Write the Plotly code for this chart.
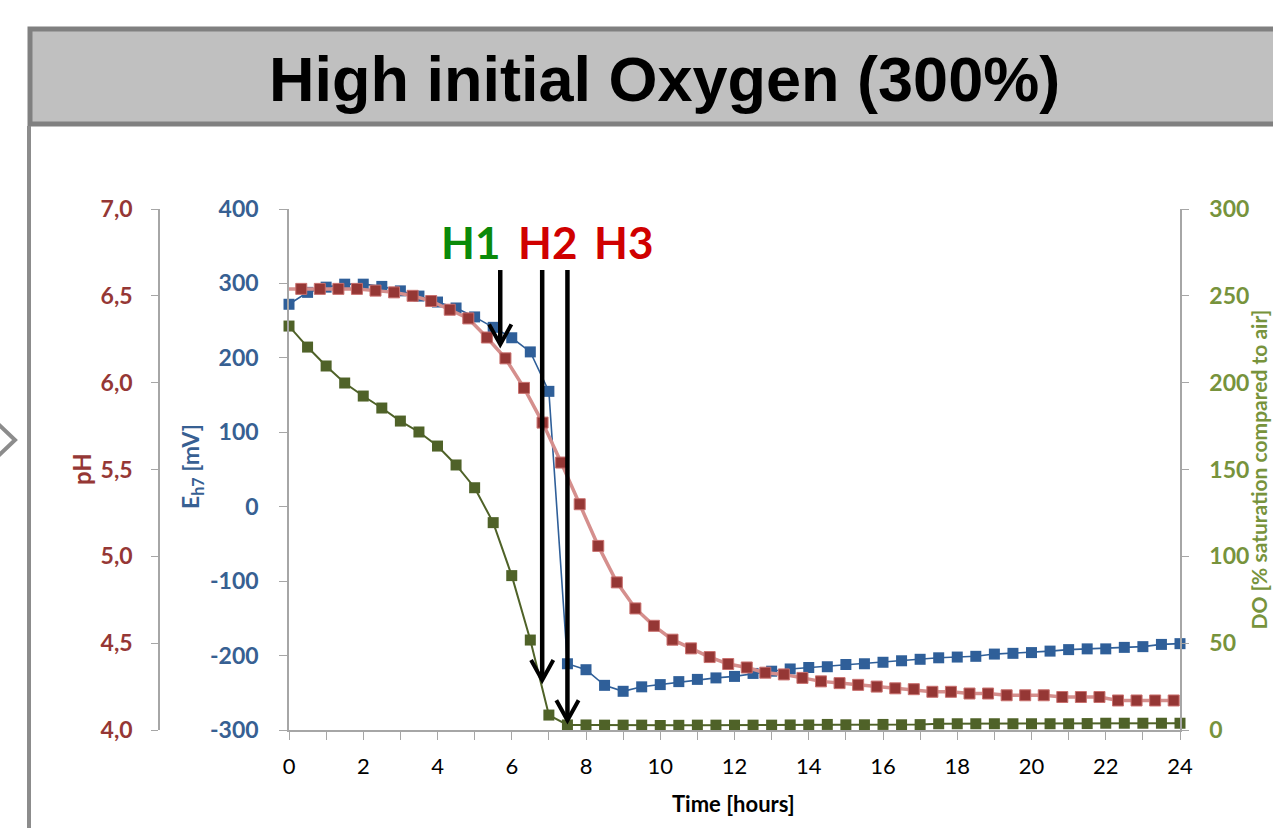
import plotly.graph_objects as go

# ---------------- data ----------------
time_h = [0, 0.5, 1, 1.5, 2, 2.5, 3, 3.5, 4, 4.5, 5, 5.5, 6, 6.5, 7, 7.5, 8, 8.5, 9, 9.5,
          10, 10.5, 11, 11.5, 12, 12.5, 13, 13.5, 14, 14.5, 15, 15.5, 16, 16.5, 17, 17.5,
          18, 18.5, 19, 19.5, 20, 20.5, 21, 21.5, 22, 22.5, 23, 23.5, 24]

# pH was logged ~10 min before the other probes
ph_time_h = [-0.17, 0.33, 0.83, 1.33, 1.83, 2.33, 2.83, 3.33, 3.83, 4.33, 4.83, 5.33, 5.83,
             6.33, 6.83, 7.33, 7.83, 8.33, 8.83, 9.33, 9.83, 10.33, 10.83, 11.33, 11.83,
             12.33, 12.83, 13.33, 13.83, 14.33, 14.83, 15.33, 15.83, 16.33, 16.83, 17.33,
             17.83, 18.33, 18.83, 19.33, 19.83, 20.33, 20.83, 21.33, 21.83, 22.33, 22.83,
             23.33, 23.83]

ph = [6.54, 6.54, 6.54, 6.54, 6.54, 6.53, 6.52, 6.50, 6.47, 6.42, 6.37, 6.26, 6.14, 5.97,
      5.77, 5.54, 5.30, 5.06, 4.85, 4.70, 4.60, 4.52, 4.47, 4.42, 4.38, 4.36, 4.33, 4.32,
      4.30, 4.28, 4.27, 4.26, 4.25, 4.24, 4.235, 4.22, 4.22, 4.21, 4.21, 4.20, 4.20, 4.20,
      4.19, 4.19, 4.19, 4.17, 4.17, 4.17, 4.17]

eh_mv = [272, 288, 295, 299, 299, 296, 290, 283, 275, 267, 255, 241, 227, 208, 155,
         -211, -219, -240, -248, -242,
         -239, -235, -232, -230, -228, -224, -221, -218, -216, -215, -212, -211, -209,
         -207, -205, -203, -202, -201, -198, -197, -196, -194, -192, -191, -191, -189,
         -188, -185, -184]

do_pct = [232.6, 220.5, 209.6, 199.8, 192.3, 185.4, 177.9, 171.6, 163.5, 152.6, 139.5,
          119.4, 88.9, 51.8, 8.6, 2.9, 2.9, 2.8, 2.8, 2.8, 2.6, 2.7, 2.8, 2.8, 2.8, 2.8,
          2.8, 2.9, 2.9, 3.2, 3.0, 3.0, 3.2, 3.0, 3.1, 3.6, 3.6, 3.6, 3.6, 3.6, 3.6, 3.6,
          3.6, 3.7, 3.9, 3.9, 3.9, 3.9, 3.9]

x_ticks = [0, 2, 4, 6, 8, 10, 12, 14, 16, 18, 20, 22, 24]
eh_ticks = [-300, -200, -100, 0, 100, 200, 300, 400]
eh_ticktext = ["-300", "-200", "-100", "0", "100", "200", "300", "400"]
ph_ticks = [4.0, 4.5, 5.0, 5.5, 6.0, 6.5, 7.0]
ph_ticktext = ["4,0", "4,5", "5,0", "5,5", "6,0", "6,5", "7,0"]
do_ticks = [0, 50, 100, 150, 200, 250, 300]

# phase markers (H1, H2, H3)
phase_labels = ["H1", "H2", "H3"]
phase_label_colors = ["#0a8a0a", "#d00000", "#d00000"]
phase_label_x = [4.9, 6.95, 9.0]
phase_arrow_x = [5.69, 6.82, 7.50]
phase_arrow_top = 318
phase_arrow_tip = [218, -233, -287]

# ---------------- colours ----------------
RED = "#953735"
RED_LINE = "#d58f8d"
BLUE = "#2f5f99"
GREEN = "#4f6228"
GREEN_TXT = "#77933c"
BLUE_TXT = "#376092"
AXIS = "#a6a6a6"

W, H = 1273, 828
def px(x):
    return x / W
def py(y):
    return 1 - y / H

fig = go.Figure()

fig.add_trace(go.Scatter(
    x=time_h, y=do_pct, yaxis="y3", mode="lines+markers", name="DO",
    line=dict(color=GREEN, width=2),
    marker=dict(symbol="square", size=11, color=GREEN),
    cliponaxis=False, showlegend=False))

fig.add_trace(go.Scatter(
    x=time_h, y=eh_mv, yaxis="y", mode="lines+markers", name="Eh7",
    line=dict(color=BLUE, width=1.6),
    marker=dict(symbol="square", size=11, color=BLUE),
    cliponaxis=False, showlegend=False))

fig.add_trace(go.Scatter(
    x=ph_time_h, y=ph, yaxis="y2", mode="lines+markers", name="pH",
    line=dict(color=RED_LINE, width=3.5),
    marker=dict(symbol="square", size=11, color=RED, line=dict(color="#c9706e", width=1)),
    cliponaxis=False, showlegend=False))

x0d, x1d = px(289), px(1180)
y0d, y1d = py(730), py(209)

tickfont_common = dict(family="Lato", size=23, weight="bold")

fig.update_layout(
    width=W, height=H,
    margin=dict(l=0, r=0, t=0, b=0, pad=0, autoexpand=False),
    paper_bgcolor="white", plot_bgcolor="white",
    font=dict(family="Lato"),
    xaxis=dict(
        domain=[x0d, x1d], range=[0, 24], tickvals=x_ticks,
        showline=True, linecolor=AXIS, linewidth=1.5,
        ticks="outside", ticklen=8, tickcolor=AXIS, tickwidth=1.2,
        minor=dict(dtick=1, tick0=0, ticks="outside", ticklen=8, tickcolor=AXIS, tickwidth=1.2),
        tickfont=dict(family="Lato", size=22, color="black"),
        ticklabelstandoff=8, automargin=False,
        showgrid=False, zeroline=False, anchor="y"),
    yaxis=dict(
        domain=[y0d, y1d], range=[-300, 400], tickvals=eh_ticks, ticktext=eh_ticktext,
        showline=True, linecolor=AXIS, linewidth=1.5,
        ticks="outside", ticklen=8, tickcolor=AXIS, tickwidth=1.2,
        tickfont=dict(tickfont_common, color=BLUE_TXT),
        ticklabelstandoff=16, automargin=False,
        showgrid=False, zeroline=False, anchor="x"),
    yaxis2=dict(
        range=[4, 7], tickvals=ph_ticks, ticktext=ph_ticktext,
        overlaying="y", anchor="free", position=px(159), side="left",
        showline=True, linecolor=AXIS, linewidth=1.5,
        ticks="outside", ticklen=7, tickcolor=AXIS, tickwidth=1.2,
        tickfont=dict(tickfont_common, color=RED),
        ticklabelstandoff=14, automargin=False,
        showgrid=False, zeroline=False),
    yaxis3=dict(
        range=[0, 300], tickvals=do_ticks,
        overlaying="y", anchor="x", side="right",
        showline=True, linecolor=AXIS, linewidth=1.5,
        ticks="outside", ticklen=7, tickcolor=AXIS, tickwidth=1.2,
        tickfont=dict(tickfont_common, color=GREEN_TXT),
        ticklabelstandoff=16, automargin=False,
        showgrid=False, zeroline=False),
)

shapes = []
# title bar
shapes.append(dict(type="rect", xref="paper", yref="paper",
                   x0=px(30), x1=px(1300), y0=py(124), y1=py(29),
                   fillcolor="#c0c0c0", line=dict(color="#808080", width=5), layer="below"))
# left frame line
shapes.append(dict(type="line", xref="paper", yref="paper",
                   x0=px(29), x1=px(29), y0=py(126), y1=py(840),
                   line=dict(color="#8c8c8c", width=4)))
# chevron at left edge
shapes.append(dict(type="path", xref="paper", yref="paper",
                   path=f"M {px(-3)} {py(423)} L {px(15)} {py(440)} L {px(-3)} {py(457)}",
                   line=dict(color="#8c8c8c", width=4)))

# arrows
for ax, tip in zip(phase_arrow_x, phase_arrow_tip):
    shapes.append(dict(type="line", xref="x", yref="y", x0=ax, x1=ax,
                       y0=phase_arrow_top, y1=tip + 3, line=dict(color="black", width=4.5)))
    shapes.append(dict(type="path", xref="x", yref="y",
                       path=f"M {ax-0.30} {tip+27} L {ax} {tip} L {ax+0.30} {tip+27}",
                       line=dict(color="black", width=4)))
fig.update_layout(shapes=shapes)

ann = []
ann.append(dict(text="<b>High initial Oxygen (300%)</b>", xref="paper", yref="paper",
                x=px(664), y=py(79), xanchor="center", yanchor="middle", showarrow=False,
                font=dict(family="Liberation Sans", size=63, color="black")))
for lab, col, lx in zip(phase_labels, phase_label_colors, phase_label_x):
    ann.append(dict(text=f"<b>{lab}</b>", xref="x", yref="paper", x=lx, y=py(242),
                    xanchor="center", yanchor="middle", showarrow=False,
                    font=dict(family="Lato", size=44, color=col)))
ann.append(dict(text="<b>Time [hours]</b>", xref="paper", yref="paper",
                x=px(734), y=py(803), xanchor="center", yanchor="middle", showarrow=False,
                font=dict(family="Lato", size=22, color="black")))
ann.append(dict(text="<b>pH</b>", xref="paper", yref="paper", x=px(82), y=py(469),
                xanchor="center", yanchor="middle", textangle=-90, showarrow=False,
                font=dict(family="Lato", size=24, color=RED)))
ann.append(dict(text="<b>E<sub>h7</sub> [mV]</b>", xref="paper", yref="paper", x=px(192), y=py(467),
                xanchor="center", yanchor="middle", textangle=-90, showarrow=False,
                font=dict(family="Lato", size=23, color=BLUE_TXT)))
ann.append(dict(text="<b>DO [% saturation compared to air]</b>", xref="paper", yref="paper",
                x=px(1272), y=py(470), xanchor="right", yanchor="middle", textangle=-90,
                showarrow=False, font=dict(family="Lato", size=21, color=GREEN_TXT)))
fig.update_layout(annotations=ann)

fig.write_html("out.html")
